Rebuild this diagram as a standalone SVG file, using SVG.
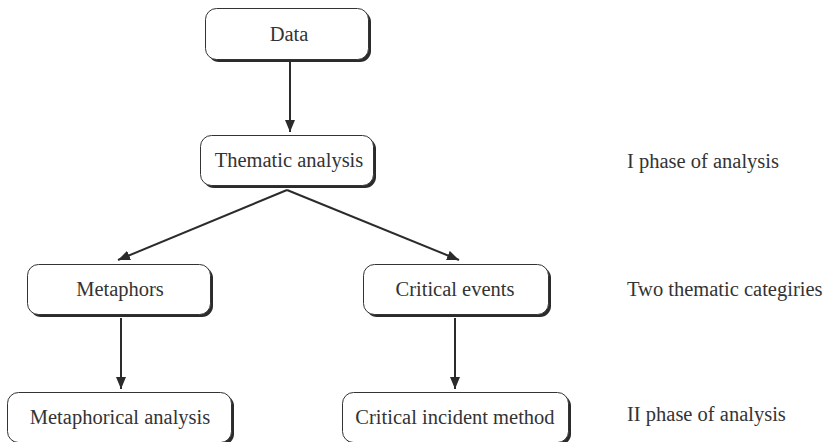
<svg xmlns="http://www.w3.org/2000/svg" width="831" height="442" viewBox="0 0 831 442">
<style>
.sh{fill:#2b2b2b}
.bx{fill:#fff;stroke:#333;stroke-width:1}
.t{font-family:"Liberation Serif","Times New Roman",serif;font-size:20.5px;fill:#333}
.c{text-anchor:middle}
.ln{stroke:#2b2b2b;stroke-width:2;fill:none;marker-end:url(#ah)}
</style>
<defs>
<marker id="ah" viewBox="0 0 12 10" refX="12" refY="5" markerWidth="12" markerHeight="10" markerUnits="userSpaceOnUse" orient="auto">
<path d="M0,0 L12,5 L0,10 Z" fill="#2b2b2b"/>
</marker>
</defs>
<rect width="831" height="442" fill="#fff"/>
<g id="connectors">
<line class="ln" x1="290" y1="62" x2="290" y2="132"/>
<line class="ln" x1="287" y1="190" x2="118" y2="260"/>
<line class="ln" x1="287" y1="190" x2="459" y2="260"/>
<line class="ln" x1="121" y1="318" x2="121" y2="389"/>
<line class="ln" x1="455" y1="318" x2="455" y2="389"/>
</g>
<g id="data">
<rect class="sh" x="208" y="11" width="163" height="51" rx="11"/>
<rect class="bx" x="205.5" y="8.5" width="163" height="51" rx="11"/>
<text class="t c" x="289" y="41">Data</text>
</g>
<g id="thematic">
<rect class="sh" x="203" y="138" width="173" height="50" rx="11"/>
<rect class="bx" x="200.5" y="135.5" width="173" height="50" rx="11"/>
<text class="t c" x="289" y="167">Thematic analysis</text>
</g>
<g id="metaphors">
<rect class="sh" x="30" y="267" width="183" height="50" rx="11"/>
<rect class="bx" x="27.5" y="264.5" width="183" height="50" rx="11"/>
<text class="t c" x="120" y="296">Metaphors</text>
</g>
<g id="critical-events">
<rect class="sh" x="366" y="267" width="185" height="50" rx="11"/>
<rect class="bx" x="363.5" y="264.5" width="185" height="50" rx="11"/>
<text class="t c" x="455" y="296">Critical events</text>
</g>
<g id="metaphorical-analysis">
<rect class="sh" x="10" y="395" width="224" height="50" rx="11"/>
<rect class="bx" x="7.5" y="392.5" width="224" height="50" rx="11"/>
<text class="t c" x="120" y="424">Metaphorical analysis</text>
</g>
<g id="critical-incident">
<rect class="sh" x="345" y="395" width="226" height="50" rx="11"/>
<rect class="bx" x="342.5" y="392.5" width="226" height="50" rx="11"/>
<text class="t c" x="455" y="424">Critical incident method</text>
</g>
<g id="labels">
<text class="t" x="627" y="168">I phase of analysis</text>
<text class="t" x="627" y="296">Two thematic categiries</text>
<text class="t" x="627" y="421">II phase of analysis</text>
</g>
</svg>
